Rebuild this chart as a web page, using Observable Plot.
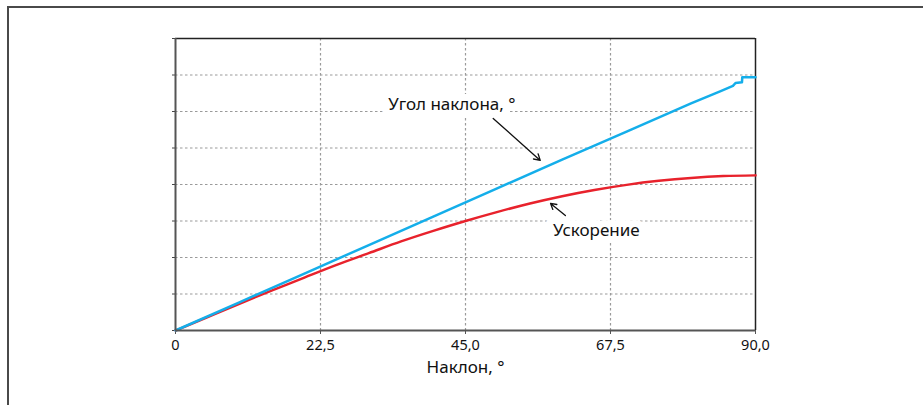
<!DOCTYPE html>
<html><head><meta charset="utf-8">
<script src="https://cdn.jsdelivr.net/npm/d3@7"></script>
<script src="https://cdn.jsdelivr.net/npm/@observablehq/plot@0.6"></script>
<style>
html,body{margin:0;padding:0;background:#fff;overflow:hidden;}
#frame{position:absolute;left:7px;top:6px;width:3000px;height:3000px;border-top:2px solid #4a4a4a;border-left:2px solid #4a4a4a;}
#chart{position:absolute;left:0;top:0;}
</style></head>
<body>
<div id="frame"></div>
<div id="chart"></div>
<script>
// Series: angle of slope (blue) and acceleration (red) vs inclination
const angleX = [0, 10, 20, 30, 40, 50, 60, 70, 80, 84.6, 86.5, 86.9, 87.9, 87.95, 90];
const angleY = [0, 0.78, 1.56, 2.34, 3.12, 3.90, 4.68, 5.45, 6.22, 6.56, 6.70, 6.78, 6.80, 6.94, 6.94];
const accelX = [0, 5, 10, 15, 20, 25, 30, 35, 40, 45, 50, 55, 60, 65, 70, 75, 80, 85, 90];
const accelY = [0, 0.37, 0.74, 1.10, 1.45, 1.80, 2.12, 2.44, 2.73, 3.00, 3.25, 3.48, 3.68, 3.85, 3.99, 4.10, 4.18, 4.23, 4.25];
const xTicks = [0, 22.5, 45, 67.5, 90];
const yTicks = [0, 1, 2, 3, 4, 5, 6, 7, 8];
const xLabel = "Наклон, °";
const labelTexts = ["Угол наклона, °", "Ускорение"];
const labelX = [42.9, 65.3];
const labelY = [6.19, 2.74];
const arrowX1 = [49.3, 60.5], arrowY1 = [5.81, 3.15], arrowX2 = [56.6, 58.2], arrowY2 = [4.66, 3.48];

const angleData = angleX.map((x, i) => ({x, y: angleY[i]}));
const accelData = accelX.map((x, i) => ({x, y: accelY[i]}));
const labels = labelTexts.map((t, i) => ({t, x: labelX[i], y: labelY[i]}));
const arrows = arrowX1.map((x1, i) => ({x1, y1: arrowY1[i], x2: arrowX2[i], y2: arrowY2[i]}));
const fmt = d => d === 0 ? "0" : d.toFixed(1).replace(".", ",");

const chart = Plot.plot({
  width: 923, height: 405,
  marginLeft: 175, marginRight: 168, marginTop: 38, marginBottom: 75,
  style: {fontFamily: "'Noto Sans', sans-serif", background: "transparent"},
  x: {domain: [0, 90]},
  y: {domain: [0, 8]},
  marks: [
    Plot.gridX(xTicks.slice(1, -1), {stroke: "#9a9a9a", strokeOpacity: 1, strokeDasharray: "2.5,2.5", strokeWidth: 1.2}),
    Plot.gridY(yTicks.slice(1, -1), {stroke: "#9a9a9a", strokeOpacity: 1, strokeDasharray: "2.5,2.5", strokeWidth: 1.2}),
    Plot.ruleY([8], {stroke: "#222", strokeWidth: 1.5}),
    Plot.ruleX([90], {stroke: "#222", strokeWidth: 1.5}),
    Plot.axisY(yTicks, {tickSize: 3, tickFormat: () => "", stroke: "#444", label: null}),
    Plot.axisX(xTicks, {tickSize: 4, tickPadding: 5, tickFormat: fmt, fontSize: 14.5, fill: "#111", stroke: "#555",
      label: xLabel, labelAnchor: "center", labelOffset: 42, labelArrow: false}),
    Plot.text(labels, {x: "x", y: "y", text: "t", fontSize: 17, fill: "#111", stroke: "white", strokeWidth: 14, paintOrder: "stroke"}),
    Plot.arrow(arrows, {x1: "x1", y1: "y1", x2: "x2", y2: "y2", stroke: "#111", strokeWidth: 1.3, headLength: 8}),
    Plot.line(accelData, {x: "x", y: "y", stroke: "#e8222c", strokeWidth: 2.5, curve: "natural"}),
    Plot.line(angleData, {x: "x", y: "y", stroke: "#14aeea", strokeWidth: 2.5, curve: "linear"}),
    Plot.ruleX([0], {stroke: "#555", strokeWidth: 2}),
    Plot.ruleY([0], {stroke: "#555", strokeWidth: 2})
  ]
});
chart.querySelectorAll("g[aria-label='x-axis label']").forEach(el => { el.setAttribute("font-size", 17); });
document.getElementById("chart").appendChild(chart);
</script>
</body></html>
